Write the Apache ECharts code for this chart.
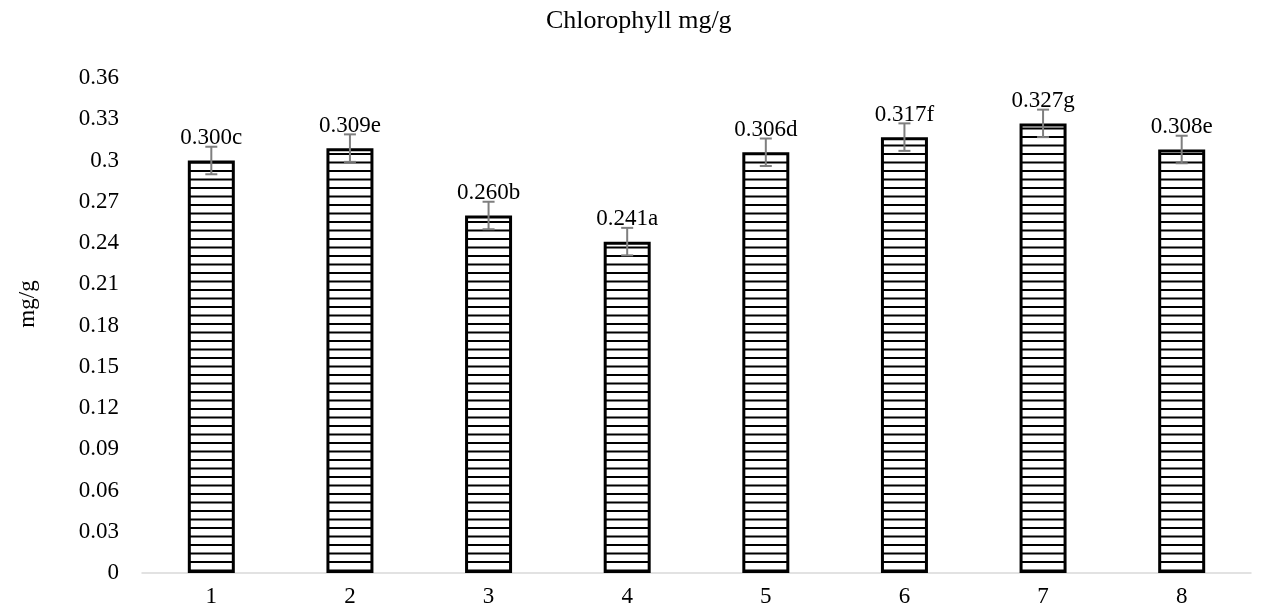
<!DOCTYPE html>
<html><head><meta charset="utf-8">
<script src="https://cdn.jsdelivr.net/npm/echarts@6/dist/echarts.min.js"></script>
<style>html,body{margin:0;padding:0;background:#fff}#c{width:1261px;height:610px}</style>
</head><body><div id="c"></div>
<script>
var categories = ['1','2','3','4','5','6','7','8'];
var values = [0.300, 0.309, 0.260, 0.241, 0.306, 0.317, 0.327, 0.308];
var errors = [0.010, 0.010, 0.010, 0.010, 0.010, 0.010, 0.010, 0.010];
var letters = ['c','e','b','a','d','f','g','e'];

var FONT = '"Liberation Serif", "Times New Roman", serif';

var pc = document.createElement('canvas');
pc.width = 8; pc.height = 17;
var ctx = pc.getContext('2d');
ctx.fillStyle = '#fff'; ctx.fillRect(0,0,8,17);
ctx.fillStyle = '#000';
ctx.fillRect(0,0,8,2);
ctx.fillRect(0,8.5,8,2);

var chart = echarts.init(document.getElementById('c'));
chart.setOption({
  animation:false,
  title:{text:'Chlorophyll mg/g', left:541, top:3,
    textStyle:{fontFamily:FONT,fontSize:26,fontWeight:'normal',color:'#000'}},
  graphic:[{type:'text',x:28,y:304,rotation:Math.PI/2,
    style:{text:'mg/g',align:'center',verticalAlign:'middle',fill:'#000',
      font:'23px "Liberation Serif", "Times New Roman", serif'}}],
  grid:{left:142,right:10,top:78,bottom:37},
  xAxis:{type:'category',data:categories,
    axisLine:{lineStyle:{color:'#d9d9d9',width:1.5}},
    axisTick:{show:false},
    axisLabel:{fontFamily:FONT,fontSize:23,color:'#000',margin:12}},
  yAxis:{type:'value',min:0,max:0.36,interval:0.03,
    axisLine:{show:false},axisTick:{show:false},splitLine:{show:false},
    axisLabel:{fontFamily:FONT,fontSize:23,color:'#000',margin:23,
      formatter:function(v){return String(parseFloat(v.toFixed(2)));}}},
  series:[
    {type:'bar',data:values,barWidth:47,
     itemStyle:{color:{image:pc,repeat:'repeat'},borderColor:'#000',borderWidth:3}},
    {type:'custom',
     data:values.map(function(v,i){return [i,v,errors[i]];}),
     z:10,
     renderItem:function(params,api){
       var i=api.value(0),v=api.value(1),e=api.value(2);
       var top=api.coord([i,v+e]),bot=api.coord([i,v-e]);
       var x=top[0],hw=6;
       var st={stroke:'#7f7f7f',lineWidth:2};
       return {type:'group',children:[
         {type:'line',shape:{x1:x,y1:top[1],x2:x,y2:bot[1]},style:st},
         {type:'line',shape:{x1:x-hw,y1:top[1],x2:x+hw,y2:top[1]},style:st},
         {type:'line',shape:{x1:x-hw,y1:bot[1],x2:x+hw,y2:bot[1]},style:st},
         {type:'text',style:{text:values[i].toFixed(3)+letters[i],x:x,y:top[1]+3,
           align:'center',verticalAlign:'bottom',fill:'#000',
           font:'23px "Liberation Serif", "Times New Roman", serif'}}
       ]};
     }}
  ]
});
</script></body></html>
